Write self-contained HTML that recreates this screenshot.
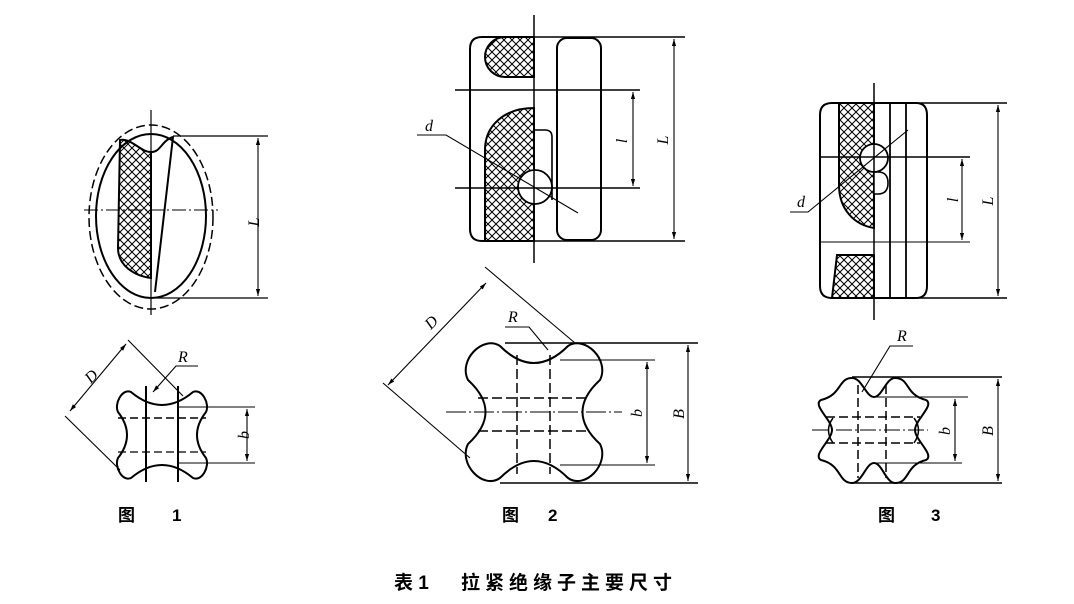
<!DOCTYPE html>
<html><head><meta charset="utf-8"><style>
html,body{margin:0;padding:0;background:#fff;}
svg{display:block;}
.t{font-family:"Liberation Serif",serif;font-style:italic;font-size:16px;fill:#000;}
.c{font-family:"Liberation Sans","Noto Sans CJK SC",sans-serif;font-size:17px;font-weight:bold;fill:#000;}
</style></head><body>
<svg width="1074" height="604" viewBox="0 0 1074 604" xmlns="http://www.w3.org/2000/svg">
<defs>
<pattern id="h" patternUnits="userSpaceOnUse" width="8" height="8">
<path d="M0,0 L8,8 M8,0 L0,8" stroke="#000" stroke-width="1"/>
</pattern>
<marker id="a" viewBox="0 0 10 10" refX="10" refY="5" markerWidth="7" markerHeight="7" orient="auto-start-reverse" markerUnits="userSpaceOnUse">
<path d="M0,2 L10,5 L0,8 Z" fill="#000"/>
</marker>
</defs>
<g fill="none" stroke="#000" stroke-width="1.3">
<!-- FIG 1 TOP -->
<ellipse cx="151" cy="217" rx="62" ry="92" stroke-dasharray="9 4" stroke-width="1.5"/>
<ellipse cx="151" cy="216" rx="55" ry="82" stroke-width="2"/>
<path d="M151,152 C140,152 132,138 120,140 L118,248 C118,266 135,276 151,278 Z" fill="url(#h)" stroke-width="2"/>
<path d="M151,152 C160,153 162,140 173,137 L155,292" stroke-width="2"/>
<line x1="151" y1="110" x2="151" y2="315" stroke-width="1.2"/>
<line x1="84" y1="210" x2="218" y2="210" stroke-width="1" stroke-dasharray="14 3 2 3"/>
<line x1="173" y1="136" x2="268" y2="136" stroke-width="1.2"/>
<line x1="155" y1="298" x2="268" y2="298" stroke-width="1.2"/>
<line x1="258" y1="138" x2="258" y2="296" stroke-width="1.1" marker-start="url(#a)" marker-end="url(#a)"/>
<!-- FIG 1 BOTTOM -->
<path d="M131,392 Q162,418 193,392 C202,388 210,404 206,412 Q188,435 206,458 C210,466 202,482 193,478 Q162,452 131,478 C122,482 114,466 118,458 Q136,435 118,412 C114,404 122,388 131,392 Z" stroke-width="2"/>
<line x1="146" y1="386" x2="146" y2="482" stroke-width="2"/>
<line x1="178" y1="386" x2="178" y2="482" stroke-width="2"/>
<line x1="118" y1="418" x2="206" y2="418" stroke-dasharray="8 4" stroke-width="1.6"/>
<line x1="118" y1="452" x2="206" y2="452" stroke-dasharray="8 4" stroke-width="1.2"/>
<line x1="178" y1="407" x2="255" y2="407" stroke-width="1.1"/>
<line x1="178" y1="463" x2="255" y2="463" stroke-width="1.1"/>
<line x1="247" y1="409" x2="247" y2="461" stroke-width="1.1" marker-start="url(#a)" marker-end="url(#a)"/>
<line x1="65" y1="416" x2="120" y2="470" stroke-width="1.1"/>
<line x1="128" y1="340" x2="183" y2="396" stroke-width="1.1"/>
<line x1="70" y1="411" x2="126" y2="344" stroke-width="1.1" marker-start="url(#a)" marker-end="url(#a)"/>
<polyline points="198,366 176,366 153,392" stroke-width="1.1" marker-end="url(#a)"/>
<!-- FIG 2 TOP -->
<path d="M534,37 L482,37 Q470,37 470,49 L470,229 Q470,241 482,241 L534,241" stroke-width="2"/>
<rect x="557" y="38" width="44" height="202" rx="10" stroke-width="2"/>
<line x1="534" y1="37" x2="685" y2="37" stroke-width="1.5"/>
<line x1="534" y1="241" x2="685" y2="241" stroke-width="1.5"/>
<path d="M534,37 L505,37 A20,20 0 0 0 505,77 L534,77 Z" fill="url(#h)" stroke-width="2"/>
<path d="M534,108 C505,108 485,125 485,150 L485,241 L534,241 Z" fill="url(#h)" stroke-width="2"/>
<path d="M534,130 L545,130 Q552,130 552,137 L552,200" stroke-width="1.6"/>
<circle cx="535" cy="187" r="17" fill="#fff" stroke-width="1.8"/>
<line x1="534" y1="15" x2="534" y2="263" stroke-width="1.5"/>
<line x1="455" y1="90" x2="640" y2="90" stroke-width="1.5"/>
<line x1="455" y1="188" x2="640" y2="188" stroke-width="1.5"/>
<line x1="633" y1="92" x2="633" y2="186" stroke-width="1.1" marker-start="url(#a)" marker-end="url(#a)"/>
<line x1="674" y1="39" x2="674" y2="239" stroke-width="1.1" marker-start="url(#a)" marker-end="url(#a)"/>
<polyline points="417,135 446,135 578,213" stroke-width="1.1"/>
<!-- FIG 2 BOTTOM -->
<path d="M500,346 Q534,380 568,346 C585,335 610,360 600,380 Q565,412 600,444 C610,464 585,490 568,478 Q534,444 500,478 C483,490 458,464 468,444 Q503,412 468,380 C458,360 483,335 500,346 Z" stroke-width="2"/>
<line x1="517" y1="355" x2="517" y2="474" stroke-dasharray="10 4" stroke-width="1.5"/>
<line x1="550" y1="355" x2="550" y2="474" stroke-dasharray="10 4" stroke-width="1.5"/>
<line x1="478" y1="398" x2="590" y2="398" stroke-dasharray="10 4" stroke-width="1.5"/>
<line x1="478" y1="431" x2="590" y2="431" stroke-dasharray="10 4" stroke-width="1.5"/>
<line x1="446" y1="412" x2="622" y2="412" stroke-width="1.1" stroke-dasharray="20 3 2 3"/>
<line x1="505" y1="343" x2="698" y2="343" stroke-width="1.5"/>
<line x1="500" y1="483" x2="698" y2="483" stroke-width="1.5"/>
<line x1="560" y1="360" x2="655" y2="360" stroke-width="1.1"/>
<line x1="560" y1="465" x2="655" y2="465" stroke-width="1.1"/>
<line x1="647" y1="362" x2="647" y2="463" stroke-width="1.1" marker-start="url(#a)" marker-end="url(#a)"/>
<line x1="688" y1="345" x2="688" y2="481" stroke-width="1.1" marker-start="url(#a)" marker-end="url(#a)"/>
<line x1="383" y1="383" x2="470" y2="458" stroke-width="1.1"/>
<line x1="485" y1="267" x2="575" y2="343" stroke-width="1.1"/>
<line x1="388" y1="385" x2="486" y2="283" stroke-width="1.1" marker-start="url(#a)" marker-end="url(#a)"/>
<polyline points="505,327 529,327 548,350" stroke-width="1.1"/>
<!-- FIG 3 TOP -->
<path d="M874,103 L832,103 Q820,103 820,115 L820,286 Q820,298 832,298 L874,298" stroke-width="2"/>
<path d="M874,103 L916,103 Q927,103 927,115 L927,286 Q927,298 916,298 L874,298" stroke-width="2"/>
<line x1="874" y1="103" x2="1007" y2="103" stroke-width="1.5"/>
<line x1="874" y1="298" x2="1007" y2="298" stroke-width="1.5"/>
<path d="M839,103 L874,103 L874,228 C855,225 839,210 839,185 Z" fill="url(#h)" stroke-width="2"/>
<path d="M837,255 L874,255 L874,298 L832,298 Z" fill="url(#h)" stroke-width="2"/>
<path d="M874,172 L878,172 Q888,172 888,183 Q888,194 878,194 L874,194" fill="#fff" stroke-width="1.6"/>
<circle cx="874" cy="158" r="14" fill="#fff" stroke-width="1.8"/>
<line x1="890" y1="103" x2="890" y2="298" stroke-width="1.8"/>
<line x1="906" y1="103" x2="906" y2="298" stroke-width="1.8"/>
<line x1="874" y1="83" x2="874" y2="320" stroke-width="1.5"/>
<line x1="820" y1="157" x2="970" y2="157" stroke-width="1.5"/>
<line x1="820" y1="242" x2="970" y2="242" stroke-width="1.1"/>
<line x1="962" y1="159" x2="962" y2="240" stroke-width="1.1" marker-start="url(#a)" marker-end="url(#a)"/>
<line x1="998" y1="105" x2="998" y2="296" stroke-width="1.1" marker-start="url(#a)" marker-end="url(#a)"/>
<polyline points="790,212 808,212 908,130" stroke-width="1.1"/>
<!-- FIG 3 BOTTOM -->
<path d="M852,378 C862,378 866,397 874,397 C882,397 886,378 895,378 C910,378 905,395 926,400 C935,405 915,420 915,430 C915,440 935,455 926,460 C905,465 910,483 895,483 C886,483 882,463 874,463 C866,463 862,483 852,483 C838,483 842,465 821,460 C812,455 832,440 832,430 C832,420 812,405 821,400 C842,395 838,378 852,378 Z" stroke-width="2"/>
<path d="M833,418 Q824,430 833,443 M914,418 Q923,430 914,443" stroke-width="1.5"/>
<line x1="858" y1="385" x2="858" y2="478" stroke-dasharray="9 4" stroke-width="1.5"/>
<line x1="886" y1="385" x2="886" y2="478" stroke-dasharray="9 4" stroke-width="1.5"/>
<line x1="826" y1="417" x2="920" y2="417" stroke-dasharray="9 4" stroke-width="1.6"/>
<line x1="826" y1="443" x2="920" y2="443" stroke-dasharray="9 4" stroke-width="1.4"/>
<line x1="812" y1="430" x2="928" y2="430" stroke-width="1.1" stroke-dasharray="16 3 2 3"/>
<line x1="852" y1="377" x2="1002" y2="377" stroke-width="1.5"/>
<line x1="852" y1="483" x2="1002" y2="483" stroke-width="1.5"/>
<line x1="875" y1="397" x2="968" y2="397" stroke-width="1.1"/>
<line x1="875" y1="463" x2="962" y2="463" stroke-width="1.1"/>
<line x1="955" y1="399" x2="955" y2="461" stroke-width="1.1" marker-start="url(#a)" marker-end="url(#a)"/>
<line x1="998" y1="379" x2="998" y2="481" stroke-width="1.1" marker-start="url(#a)" marker-end="url(#a)"/>
<polyline points="913,346 890,346 862,392" stroke-width="1.1"/>
</g>
<text class="t" transform="translate(259,222) rotate(-90)" text-anchor="middle">L</text>
<text class="t" transform="translate(249,435) rotate(-90)" text-anchor="middle">b</text>
<text class="t" transform="translate(95,380) rotate(-45)" text-anchor="middle">D</text>
<text class="t" x="178" y="362">R</text>
<text class="t" x="425" y="131">d</text>
<text class="t" transform="translate(627,141) rotate(-90)" text-anchor="middle">l</text>
<text class="t" transform="translate(668,140) rotate(-90)" text-anchor="middle">L</text>
<text class="t" transform="translate(435,326) rotate(-45)" text-anchor="middle">D</text>
<text class="t" x="508" y="322">R</text>
<text class="t" transform="translate(642,413) rotate(-90)" text-anchor="middle">b</text>
<text class="t" transform="translate(684,414) rotate(-90)" text-anchor="middle">B</text>
<text class="t" x="797" y="207">d</text>
<text class="t" transform="translate(958,200) rotate(-90)" text-anchor="middle">l</text>
<text class="t" transform="translate(993,201) rotate(-90)" text-anchor="middle">L</text>
<text class="t" x="897" y="341">R</text>
<text class="t" transform="translate(950,431) rotate(-90)" text-anchor="middle">b</text>
<text class="t" transform="translate(993,431) rotate(-90)" text-anchor="middle">B</text>
<text class="c" x="118" y="521">图</text><text class="c" x="172" y="521">1</text>
<text class="c" x="502" y="521">图</text><text class="c" x="548" y="521">2</text>
<text class="c" x="878" y="521">图</text><text class="c" x="931" y="521">3</text>
<text class="c" x="394" y="589" style="font-size:19px">表 1</text>
<text class="c" x="461" y="589" style="font-size:19px;letter-spacing:5px">拉紧绝缘子主要尺寸</text>
</svg>
</body></html>
